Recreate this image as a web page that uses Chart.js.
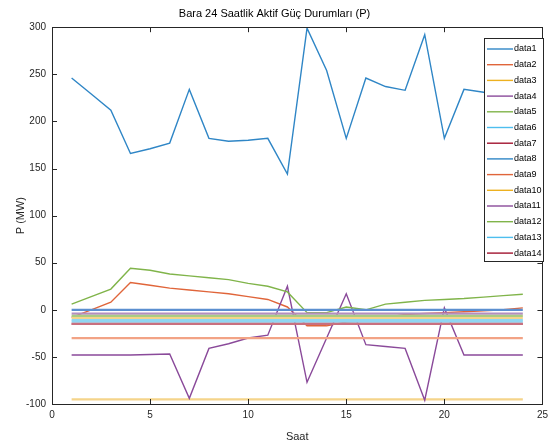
<!DOCTYPE html>
<html>
<head>
<meta charset="utf-8">
<script src="https://cdn.jsdelivr.net/npm/chart.js@4"></script>
<style>
  html, body { margin: 0; padding: 0; background: #fff; }
  #wrap { width: 553px; height: 445px; position: relative; }
</style>
</head>
<body>
<div id="wrap"><canvas id="myChart"></canvas></div>
<script>
// saat (hour) values
var hours = [1, 2, 3, 4, 5, 6, 7, 8, 9, 10, 11, 12, 13, 14, 15, 16, 17, 18, 19, 20, 21, 22, 23, 24];

// series
var data1 = [246, 229, 212, 166, 171, 177, 234, 182, 179, 180, 182, 144, 299, 254, 182, 246, 237, 233, 292, 182, 234, 231, 226, 228];
var data2 = [-8, 0, 8, 29, 26, 23, 21, 19, 17, 14, 11, 3, -17, -17, -13, -12, -8, -5, -4, -3, -2, -1, 0, 2];
var data3 = [-95, -95, -95, -95, -95, -95, -95, -95, -95, -95, -95, -95, -95, -95, -95, -95, -95, -95, -95, -95, -95, -95, -95, -95];
var data4 = [-48, -48, -48, -48, -47.5, -47, -94, -41, -36, -30, -27, 25, -77, -30, 17, -37, -39, -41, -96, 2, -48, -48, -48, -48];
var data5 = [6, 14, 22, 44, 42, 38, 36, 34, 32, 28, 25, 19, -3, -3, 3, 0, 6, 8, 10, 11, 12, 13.5, 15, 16.5];
var data6 = [-11, -11, -11, -11, -11, -11, -11, -11, -11, -11, -11, -11, -11, -11, -11, -11, -11, -11, -11, -11, -11, -11, -11, -11];
var data7 = [-15, -15, -15, -15, -15, -15, -15, -15, -15, -15, -15, -15, -15, -15, -15, -15, -15, -15, -15, -15, -15, -15, -15, -15];
var data8 = [0, 0, 0, 0, 0, 0, 0, 0, 0, 0, 0, 0, 0, 0, 0, 0, 0, 0, 0, 0, 0, 0, 0, 0];
var data9 = [-30, -30, -30, -30, -30, -30, -30, -30, -30, -30, -30, -30, -30, -30, -30, -30, -30, -30, -30, -30, -30, -30, -30, -30];
var data10 = [-8.5, -8.5, -8.5, -8.5, -8.5, -8.5, -8.5, -8.5, -8.5, -8.5, -8.5, -8.5, -8.5, -8.5, -8.5, -8.5, -8.5, -8.5, -8.5, -8.5, -8.5, -8.5, -8.5, -8.5];
var data11 = [-4, -4, -4, -4, -4, -4, -4, -4, -4, -4, -4, -4, -4, -4, -4, -4, -4, -4, -4, -4, -4, -4, -4, -4];
var data12 = [-6.5, -6.5, -6.5, -6.5, -6.5, -6.5, -6.5, -6.5, -6.5, -6.5, -6.5, -6.5, -6.5, -6.5, -6.5, -6.5, -6.5, -6.5, -6.5, -6.5, -6.5, -6.5, -6.5, -6.5];
var data13 = [-12.5, -12.5, -12.5, -12.5, -12.5, -12.5, -12.5, -12.5, -12.5, -12.5, -12.5, -12.5, -12.5, -12.5, -12.5, -12.5, -12.5, -12.5, -12.5, -12.5, -12.5, -12.5, -12.5, -12.5];
var data14 = [-15, -15, -15, -15, -15, -15, -15, -15, -15, -15, -15, -15, -15, -15, -15, -15, -15, -15, -15, -15, -15, -15, -15, -15];

var seriesNames = ['data1', 'data2', 'data3', 'data4', 'data5', 'data6', 'data7', 'data8', 'data9', 'data10', 'data11', 'data12', 'data13', 'data14'];
var seriesValues = [data1, data2, data3, data4, data5, data6, data7, data8, data9, data10, data11, data12, data13, data14];
var varying = [true, true, false, true, true, false, false, false, false, false, false, false, false, false];

// tick labels
var xTicks = [0, 5, 10, 15, 20, 25];
var yTicks = [-100, -50, 0, 50, 100, 150, 200, 250, 300];

// matlab default color order
var colors = ['#2f86c6', '#e0653a', '#EDB120', '#8a4a9a', '#80b44a', '#4DBEEE', '#A2142F'];
var lightColors = ['#5b8fd0', '#f2a385', '#f5d48a', '#b48ec0', '#a9cc82', '#8fd6f2', '#c9707f'];

var FONT = "'Liberation Sans', Arial, sans-serif";

var datasets = seriesValues.map(function (vals, i) {
    var c = varying[i] ? colors[i % 7] : lightColors[i % 7];
    return {
        label: seriesNames[i],
        data: vals.map(function (v, k) { return { x: hours[k], y: v }; }),
        borderColor: c,
        backgroundColor: c,
        borderWidth: varying[i] ? 1.4 : 2.2,
        pointRadius: 0,
        tension: 0,
        order: 14 - i,
        legendColor: colors[i % 7]
    };
});

// box + inward ticks, like matlab axes
var boxPlugin = {
    id: 'box',
    afterDraw: function (chart) {
        var ctx = chart.ctx, a = chart.chartArea;
        var xs = chart.scales.x, ys = chart.scales.y;
        ctx.save();
        ctx.strokeStyle = '#262626';
        ctx.lineWidth = 1;
        ctx.strokeRect(Math.round(a.left) + 0.5, Math.round(a.top) + 0.5, Math.round(a.right - a.left), Math.round(a.bottom - a.top));
        ctx.beginPath();
        xTicks.forEach(function (t) {
            var px = Math.round(xs.getPixelForValue(t)) + 0.5;
            ctx.moveTo(px, a.bottom); ctx.lineTo(px, a.bottom - 5);
            ctx.moveTo(px, a.top); ctx.lineTo(px, a.top + 5);
        });
        yTicks.forEach(function (t) {
            var py = Math.round(ys.getPixelForValue(t)) + 0.5;
            ctx.moveTo(a.left, py); ctx.lineTo(a.left + 5, py);
            ctx.moveTo(a.right, py); ctx.lineTo(a.right - 5, py);
        });
        ctx.stroke();

        // legend box in the upper right corner
        var lx = 484, ly = 38, lw = 59, lh = 223;
        ctx.fillStyle = '#fff';
        ctx.fillRect(lx, ly, lw, lh);
        ctx.strokeStyle = '#262626';
        ctx.strokeRect(lx + 0.5, ly + 0.5, lw, lh);
        ctx.font = '9px ' + FONT;
        ctx.textBaseline = 'middle';
        ctx.fillStyle = '#000';
        chart.data.datasets.forEach(function (ds, i) {
            var y = 49 + i * 15.7;
            ctx.strokeStyle = ds.legendColor;
            ctx.lineWidth = 1.4;
            ctx.beginPath();
            ctx.moveTo(lx + 3, y); ctx.lineTo(lx + 29, y);
            ctx.stroke();
            ctx.fillText(ds.label, lx + 30, y);
        });
        ctx.restore();
    }
};

var ctx = document.getElementById('myChart').getContext('2d');
var myChart = new Chart(ctx, {
    type: 'line',
    data: { datasets: datasets },
    options: {
        responsive: true,
        maintainAspectRatio: false,
        animation: false,
        layout: { padding: { top: 0, right: 4, left: 0, bottom: 0 } },
        plugins: {
            legend: { display: false },
            tooltip: { enabled: false },
            title: {
                display: true,
                text: 'Bara 24 Saatlik Aktif Güç Durumları (P)',
                color: '#000',
                font: { family: FONT, size: 11, weight: 'normal' },
                padding: { top: 7, bottom: 7 }
            }
        },
        scales: {
            x: {
                type: 'linear',
                min: 0, max: 25,
                afterFit: function (s) { s.height = 41; },
                afterBuildTicks: function (s) { s.ticks = xTicks.map(function (v) { return { value: v }; }); },
                grid: { display: false, drawTicks: false, tickLength: 0 },
                border: { display: false },
                ticks: { color: '#262626', font: { family: FONT, size: 10 }, padding: 5, maxRotation: 0 },
                title: { display: true, text: 'Saat', color: '#262626', font: { family: FONT, size: 11 }, padding: { top: 0, bottom: 1 } }
            },
            y: {
                min: -100, max: 300,
                afterFit: function (s) { s.width = 52; },
                afterBuildTicks: function (s) { s.ticks = yTicks.map(function (v) { return { value: v }; }); },
                grid: { display: false, drawTicks: false, tickLength: 0 },
                border: { display: false },
                ticks: { color: '#262626', font: { family: FONT, size: 10 }, padding: 6 },
                title: { display: true, text: 'P (MW)', color: '#262626', font: { family: FONT, size: 11 }, padding: { top: 14, bottom: 0 } }
            }
        }
    },
    plugins: [boxPlugin]
});
</script>
</body>
</html>
